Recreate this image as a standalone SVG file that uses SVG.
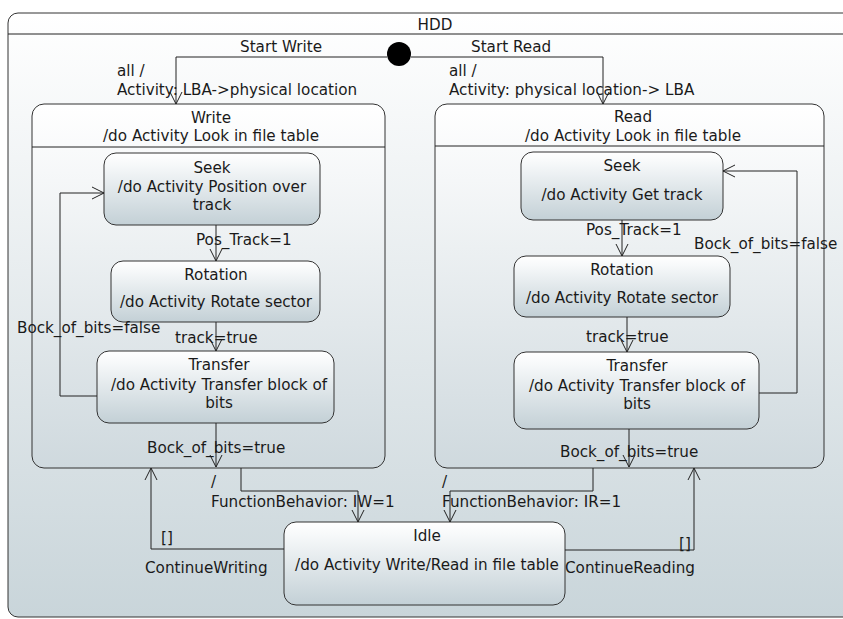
<svg xmlns="http://www.w3.org/2000/svg" width="843" height="619" viewBox="0 0 843 619">
<defs>
<linearGradient id="gBg" x1="0" y1="0" x2="0" y2="1">
<stop offset="0" stop-color="#ffffff"/><stop offset="1" stop-color="#c9d5da"/>
</linearGradient>
<linearGradient id="gComp" x1="0" y1="0" x2="0" y2="1">
<stop offset="0" stop-color="#ffffff"/><stop offset="1" stop-color="#cfd9de"/>
</linearGradient>
<linearGradient id="gState" x1="0" y1="0" x2="0" y2="1">
<stop offset="0" stop-color="#ffffff"/><stop offset="0.15" stop-color="#f7f9fa"/><stop offset="1" stop-color="#c3d0d6"/>
</linearGradient>
<marker id="arr" markerUnits="userSpaceOnUse" markerWidth="14" markerHeight="14" refX="12" refY="6" orient="auto" viewBox="-1 -1 14 14">
<path d="M0,0 L12,6 L0,12" fill="none" stroke="#222" stroke-width="1"/>
</marker>
<style>
text{font-family:"DejaVu Sans",sans-serif;font-size:15.2px;fill:#1a1a1a}
.c{text-anchor:middle}
.frame{fill:url(#gBg);stroke:#333;stroke-width:1}
.comp{fill:url(#gComp);stroke:#333;stroke-width:1}
.st{fill:url(#gState);stroke:#333;stroke-width:1}
.ln{fill:none;stroke:#222;stroke-width:1}
.e{fill:none;stroke:#222;stroke-width:1;marker-end:url(#arr)}
</style>
</defs>

<g id="HDD">
<rect class="frame" x="8" y="13" width="850" height="604" rx="10"/>
<line class="ln" x1="8" y1="34" x2="843" y2="34"/>
<text class="c" x="435" y="30">HDD</text>
</g>

<g id="initial">
<circle cx="399" cy="54" r="12" fill="#000"/>
</g>

<g id="Write">
<rect class="comp" x="32" y="104" width="353" height="364" rx="12"/>
<line class="ln" x1="32" y1="147" x2="385" y2="147"/>
<text class="c" x="211" y="123">Write</text>
<text class="c" x="211" y="141">/do Activity Look in file table</text>
</g>
<g id="WriteSeek">
<rect class="st" x="104" y="153" width="216" height="72" rx="12"/>
<text class="c" x="212" y="173">Seek</text>
<text class="c" x="212" y="192">/do Activity Position over</text>
<text class="c" x="212" y="210">track</text>
</g>
<g id="WriteRotation">
<rect class="st" x="111" y="261" width="209" height="61" rx="12"/>
<text class="c" x="216" y="280">Rotation</text>
<text class="c" x="216" y="307">/do Activity Rotate sector</text>
</g>
<g id="WriteTransfer">
<rect class="st" x="97" y="351" width="237" height="72" rx="12"/>
<text class="c" x="219" y="370">Transfer</text>
<text class="c" x="219" y="390">/do Activity Transfer block of</text>
<text class="c" x="219" y="408">bits</text>
</g>

<g id="Read">
<rect class="comp" x="435" y="104" width="389" height="364" rx="12"/>
<line class="ln" x1="435" y1="146" x2="824" y2="146"/>
<text class="c" x="633" y="122">Read</text>
<text class="c" x="633" y="141">/do Activity Look in file table</text>
</g>
<g id="ReadSeek">
<rect class="st" x="521" y="152" width="202" height="68" rx="12"/>
<text class="c" x="622" y="171">Seek</text>
<text class="c" x="622" y="200">/do Activity Get track</text>
</g>
<g id="ReadRotation">
<rect class="st" x="514" y="256" width="216" height="61" rx="12"/>
<text class="c" x="622" y="275">Rotation</text>
<text class="c" x="622" y="303">/do Activity Rotate sector</text>
</g>
<g id="ReadTransfer">
<rect class="st" x="514" y="352" width="245" height="77" rx="12"/>
<text class="c" x="637" y="371">Transfer</text>
<text class="c" x="637" y="391">/do Activity Transfer block of</text>
<text class="c" x="637" y="409">bits</text>
</g>

<g id="Idle">
<rect class="st" x="284" y="522" width="281" height="83" rx="12"/>
<text class="c" x="427" y="541">Idle</text>
<text class="c" x="427" y="570">/do Activity Write/Read in file table</text>
</g>

<g id="connectors">
<path class="e" d="M387,57 H176 V104"/>
<path class="e" d="M411,57 H603 V104"/>
<path class="e" d="M216,225 V261"/>
<path class="e" d="M216,322 V351"/>
<path class="e" d="M97,396 H60 V193 H104"/>
<path class="e" d="M216,423 V467"/>
<path class="e" d="M622,220 V256"/>
<path class="e" d="M627,317 V352"/>
<path class="e" d="M759,393 H797 V171 H723"/>
<path class="e" d="M629,429 V467"/>
<path class="e" d="M241,468 V491 H358 V522"/>
<path class="e" d="M593,468 V491 H450 V522"/>
<path class="e" d="M284,549 H151 V468"/>
<path class="e" d="M565,550 H694 V468"/>

<text x="240" y="52">Start Write</text>
<text x="471" y="52">Start Read</text>
<text x="117" y="76">all /</text>
<text x="117" y="95">Activity: LBA-&gt;physical location</text>
<text x="449" y="76">all /</text>
<text x="449" y="95">Activity: physical location-&gt; LBA</text>
<text x="196" y="245">Pos_Track=1</text>
<text x="175" y="343">track=true</text>
<text x="17" y="333">Bock_of_bits=false</text>
<text x="147" y="453">Bock_of_bits=true</text>
<text x="586" y="235">Pos_Track=1</text>
<text x="586" y="342">track=true</text>
<text x="694" y="249">Bock_of_bits=false</text>
<text x="560" y="457">Bock_of_bits=true</text>
<text x="211" y="487">/</text>
<text x="211" y="507">FunctionBehavior: IW=1</text>
<text x="442" y="487">/</text>
<text x="442" y="507">FunctionBehavior: IR=1</text>
<text x="161" y="543">[]</text>
<text x="145" y="573">ContinueWriting</text>
<text x="679" y="549">[]</text>
<text x="565" y="573">ContinueReading</text>
</g>
</svg>
